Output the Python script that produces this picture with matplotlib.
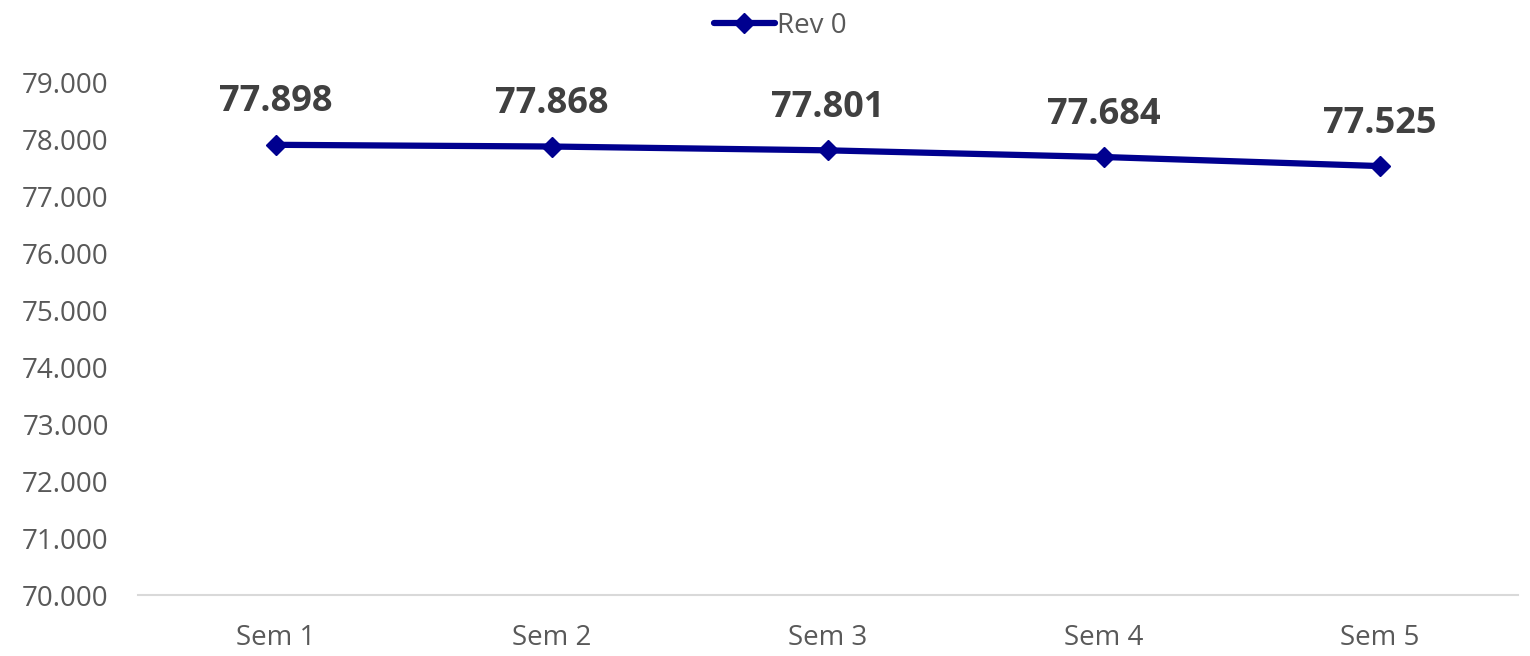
import matplotlib
matplotlib.use("Agg")
from matplotlib import pyplot as plt
from matplotlib.ticker import FuncFormatter, MultipleLocator

plt.rcParams['font.family'] = ['Open Sans', 'DejaVu Sans']

semanas = ['Sem 1', 'Sem 2', 'Sem 3', 'Sem 4', 'Sem 5']
rev0 = [77898, 77868, 77801, 77684, 77525]
serie_nome = 'Rev 0'


def milhar(v, pos=None):
    # separador de milhar com ponto
    return f'{int(round(v)):,}'.replace(',', '.')


fig = plt.figure(figsize=(15.3, 6.56), dpi=100)
ax = fig.add_axes([138 / 1530, 61 / 656, 1380 / 1530, 513 / 656])

x = list(range(len(semanas)))
ax.plot(x, rev0, color='#00008f', lw=4.5, marker='D', markersize=10,
        label=serie_nome, solid_capstyle='round')

for i, v in enumerate(rev0):
    ax.annotate(milhar(v), (x[i], v), xytext=(0, 24), textcoords='offset points',
                ha='center', va='baseline', fontsize=26, fontweight='bold',
                color='#404040')

ax.set_xlim(-0.5, len(semanas) - 0.5)
ax.set_ylim(70000, 79000)
ax.yaxis.set_major_locator(MultipleLocator(1000))
ax.yaxis.set_major_formatter(FuncFormatter(milhar))
ax.set_xticks(x)
ax.set_xticklabels(semanas)

for s in ['top', 'right', 'left']:
    ax.spines[s].set_visible(False)
ax.spines['bottom'].set_color('#d9d9d9')
ax.spines['bottom'].set_linewidth(1.5)
ax.tick_params(axis='both', length=0, labelsize=20, labelcolor='#595959')
ax.tick_params(axis='x', pad=21)
ax.tick_params(axis='y', pad=21)

leg = fig.legend(loc='upper center', bbox_to_anchor=(0.51, 1.02), frameon=False,
                 fontsize=20, handlelength=2.2, handletextpad=0.1)
for t in leg.get_texts():
    t.set_color('#595959')

fig.savefig('out.png', dpi=100)
